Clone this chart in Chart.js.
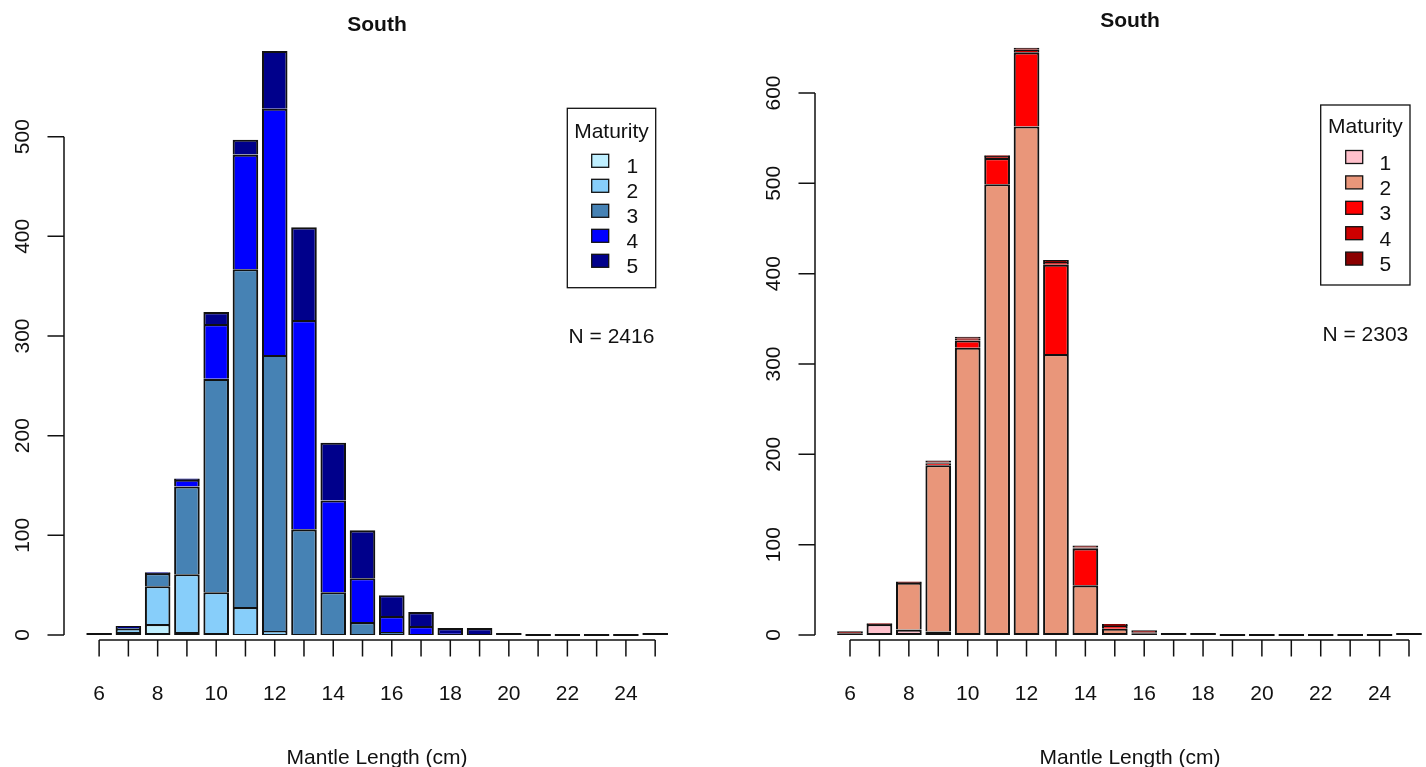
<!DOCTYPE html>
<html>
<head>
<meta charset="utf-8">
<script src="https://cdn.jsdelivr.net/npm/chart.js@4.4.1/dist/chart.umd.min.js"></script>
<style>
  html, body { margin: 0; padding: 0; background: #ffffff; overflow: hidden; width: 1426px; height: 767px; }
  #wrapL { position: absolute; left: 0; top: 0; width: 713px; height: 767px; }
  #wrapR { position: absolute; left: 713px; top: 0; width: 760px; height: 767px; }
</style>
</head>
<body>
<div id="wrapL"><canvas id="cL" width="713" height="767"></canvas></div>
<div id="wrapR"><canvas id="cR" width="760" height="767"></canvas></div>
<script>
// ---------------- DATA ----------------
const lengths = [6,7,8,9,10,11,12,13,14,15,16,17,18,19,20,21,22,23,24,25];
const xTickLabels = [6,8,10,12,14,16,18,20,22,24];
const maturityLevels = ['1','2','3','4','5'];

// Left panel (blue) counts per maturity stage
const leftM1 = [0,3,11,3,2,1,1,0,0,0,0,0,0,0,0,0,0,0,0,0];
const leftM2 = [0,3,38,58,41,27,3,1,1,1,1,0,0,0,0,0,0,0,0,0];
const leftM3 = [0,1,13,88,214,339,277,105,42,12,2,1,1,0,0,0,0,0,0,0];
const leftM4 = [0,0,0,7,55,115,247,210,92,44,16,8,1,1,0,0,0,0,0,0];
const leftM5 = [1,2,0,0,12,15,58,93,58,48,21,14,5,6,1,0,0,0,0,1];
const leftYTicks = [0,100,200,300,400,500];
const leftN = 'N = 2416';

// Right panel (red) counts per maturity stage
const rightM1 = [2,12,6,4,0,0,0,0,0,0,0,0,0,0,0,0,0,0,0,0];
const rightM2 = [0,0,52,184,318,499,563,311,55,7,2,0,0,0,0,0,0,0,0,0];
const rightM3 = [0,0,0,2,8,29,82,99,41,3,0,0,0,0,0,0,0,0,0,0];
const rightM4 = [0,0,0,1,2,2,3,3,1,1,1,0,0,0,0,0,0,0,0,0];
const rightM5 = [1,0,0,1,1,0,2,2,1,0,1,1,1,0,0,0,0,0,0,1];
const rightYTicks = [0,100,200,300,400,500,600];
const rightN = 'N = 2303';

const panelTitle = 'South';
const xTitle = 'Mantle Length (cm)';
const legendTitle = 'Maturity';

const blueColors = ['#BFEFFF','#87CEFA','#4682B4','#0000FF','#00008B'];
const redColors  = ['#FFC0CB','#E9967A','#FF0000','#CD0000','#8B0000'];

// ---------------- RENDER ----------------
const FONT = '"Liberation Sans", Arial, Helvetica, sans-serif';
const INK = '#111111';

function makePanel(canvasId, series, colors, yTicks, nText, L) {
  const datasets = series.map((vals, d) => ({
    label: maturityLevels[d],
    data: vals,
    backgroundColor: colors[d],
    borderColor: INK,
    borderWidth: 2.1,
    minBarLength: d === series.length - 1 ? 2 : 0,
    borderSkipped: (ctx) => {
      const i = ctx.dataIndex;
      for (let k = 0; k < ctx.datasetIndex; k++) {
        if (series[k][i] !== 0) return 'start';
      }
      return false;
    },
    barPercentage: 0.875,
    categoryPercentage: 1.0
  }));

  const decor = {
    id: 'rdecor',
    afterDraw(chart) {
      const c = chart.ctx;
      const xs = chart.scales.x, ys = chart.scales.y;
      const area = chart.chartArea;
      c.save();
      c.strokeStyle = INK;
      c.fillStyle = INK;
      c.lineWidth = 1.5;

      // y axis (R style: line spans first..last tick)
      const ax = area.left;
      c.beginPath();
      c.moveTo(ax, ys.getPixelForValue(yTicks[0]));
      c.lineTo(ax, ys.getPixelForValue(yTicks[yTicks.length - 1]));
      yTicks.forEach(v => {
        const py = ys.getPixelForValue(v);
        c.moveTo(ax, py);
        c.lineTo(ax - L.tick, py);
      });
      c.stroke();
      c.font = '21px ' + FONT;
      c.textAlign = 'center';
      c.textBaseline = 'alphabetic';
      yTicks.forEach(v => {
        const py = ys.getPixelForValue(v);
        c.save();
        c.translate(ax - L.yLabOff, py);
        c.rotate(-Math.PI / 2);
        c.fillText(String(v), 0, 0);
        c.restore();
      });

      // x axis
      const ay = area.bottom;
      c.beginPath();
      c.moveTo(xs.getPixelForValue(lengths[0]), ay);
      c.lineTo(xs.getPixelForValue(lengths[lengths.length - 1]), ay);
      lengths.forEach(v => {
        const px = xs.getPixelForValue(v);
        c.moveTo(px, ay);
        c.lineTo(px, ay + L.tick);
      });
      c.stroke();
      xTickLabels.forEach(v => {
        c.fillText(String(v), xs.getPixelForValue(v), L.xLabBase);
      });

      const cx = (area.left + area.right) / 2;
      // x title
      c.fillText(xTitle, cx, L.xTitleBase);
      // main title
      c.font = 'bold 21px ' + FONT;
      c.fillText(panelTitle, cx, L.titleBase);

      // legend
      c.font = '21px ' + FONT;
      c.lineWidth = 1.3;
      c.strokeRect(L.legX, L.legY, L.legW, L.legH);
      c.fillText(legendTitle, L.legX + L.legW / 2, L.legTitleBase);
      c.textAlign = 'left';
      maturityLevels.forEach((lab, d) => {
        const base = L.legItemBase + d * L.legStep;
        c.fillStyle = colors[d];
        c.fillRect(L.legX + L.swOff, base - 19, 17, 13);
        c.lineWidth = 1.3;
        c.strokeRect(L.legX + L.swOff, base - 19, 17, 13);
        c.fillStyle = INK;
        c.fillText(lab, L.legX + L.labOff, base);
      });
      c.textAlign = 'center';
      c.fillText(nText, L.legX + L.legW / 2, L.nBase);
      c.restore();
    }
  };

  return new Chart(document.getElementById(canvasId), {
    type: 'bar',
    data: { labels: lengths, datasets },
    options: {
      responsive: false,
      animation: false,
      devicePixelRatio: 1,
      layout: { padding: L.padding },
      plugins: { legend: { display: false }, title: { display: false }, tooltip: { enabled: false } },
      scales: {
        x: { type: 'linear', stacked: true, display: false, min: L.xMin, max: L.xMax, offset: false },
        y: { stacked: true, display: false, min: L.yMin, max: L.yMax }
      }
    },
    plugins: [decor]
  });
}

makePanel('cL', [leftM1, leftM2, leftM3, leftM4, leftM5], blueColors, leftYTicks, leftN, {
  padding: { left: 64, right: 23, top: 37, bottom: 127 },
  xMin: 4.80, xMax: 26.19, yMin: -5, yMax: 600,
  tick: 16.5, yLabOff: 35, xLabBase: 700, xTitleBase: 764, titleBase: 31,
  legX: 567.3, legY: 108.3, legW: 88.4, legH: 179.4, legTitleBase: 138.3,
  legItemBase: 173.3, legStep: 25, swOff: 24.4, labOff: 59.2, nBase: 343.3
});

makePanel('cR', [rightM1, rightM2, rightM3, rightM4, rightM5], redColors, rightYTicks, rightN, {
  padding: { left: 102, right: 28, top: 37, bottom: 127 },
  xMin: 4.81, xMax: 26.224, yMin: -5.535, yMax: 662.0,
  tick: 16.5, yLabOff: 35.3, xLabBase: 700, xTitleBase: 764, titleBase: 27,
  legX: 607.7, legY: 105, legW: 89.3, legH: 180, legTitleBase: 133.3,
  legItemBase: 169.5, legStep: 25.4, swOff: 25, labOff: 58.8, nBase: 340.5
});
</script>
</body>
</html>
